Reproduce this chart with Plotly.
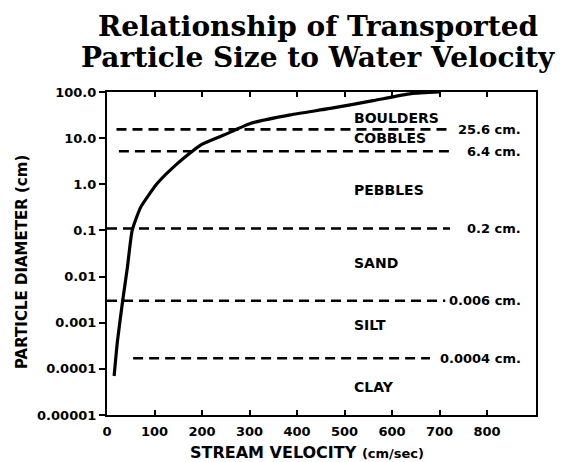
import math
import plotly.graph_objects as go

# Curve: stream velocity (cm/sec) vs particle diameter (cm)
velocity = [15, 22, 33, 43, 53, 71, 106, 148, 197, 246, 303, 386, 470, 560, 640, 700]
diameter = [0.00007, 0.0004, 0.003, 0.016, 0.1, 0.32, 1.05, 2.8, 7.1, 11.7, 21, 32, 44, 65, 92, 100]

# Boundary (dashed) lines as drawn
boundary_y = [15.5, 5.2, 0.11, 0.003, 0.00017]
boundary_x0 = [20, 25, 0, 0, 55]
boundary_x1 = [720, 720, 722, 712, 680]
boundary_labels = ["25.6 cm.", "6.4 cm.", "0.2 cm.", "0.006 cm.", "0.0004 cm."]

# Particle class labels
class_names = ["BOULDERS", "COBBLES", "PEBBLES", "SAND", "SILT", "CLAY"]
class_y = [27, 10, 0.74, 0.0195, 0.0009, 0.00004]
class_x = 516

x_ticks = [0, 100, 200, 300, 400, 500, 600, 700, 800]
y_ticks = [100, 10, 1, 0.1, 0.01, 0.001, 0.0001, 0.00001]
y_tick_text = ["100.0", "10.0", "1.0", "0.1", "0.01", "0.001", "0.0001", "0.00001"]

title_lines = ["Relationship of Transported", "Particle Size to Water Velocity"]
x_title = "STREAM VELOCITY <span style='font-size:13px'>(cm/sec)</span>"
y_title = "PARTICLE DIAMETER (cm)"

W, H = 563, 462
ML, MR, MT, MB = 107, 27, 92, 47
PH = H - MT - MB
PW = W - ML - MR


def px_to_paper_x(px):
    return (px - ML) / PW


def px_to_paper_y(py):
    return (H - MB - py) / PH


fig = go.Figure()

for y, x0, x1 in zip(boundary_y, boundary_x0, boundary_x1):
    fig.add_trace(go.Scatter(x=[x0, x1], y=[y, y], mode="lines",
                             line=dict(color="black", width=2.6, dash="10px,6px"),
                             hoverinfo="skip", showlegend=False))

fig.add_trace(go.Scatter(x=velocity, y=diameter, mode="lines",
                         line=dict(color="black", width=3.2, shape="spline", smoothing=0.5),
                         showlegend=False))

ann = []
for y, t in zip(boundary_y, boundary_labels):
    ann.append(dict(x=px_to_paper_x(523), y=math.log10(y), xref="paper", yref="y", text=t,
                    showarrow=False, xanchor="right", yanchor="middle",
                    font=dict(family="DejaVu Sans", size=13, color="black", weight="bold")))
for y, t in zip(class_y, class_names):
    ann.append(dict(x=class_x, y=math.log10(y), xref="x", yref="y", text=t, showarrow=False,
                    xanchor="left", yanchor="middle",
                    font=dict(family="DejaVu Sans", size=14, color="black", weight="bold")))

# Title as two lines placed precisely (pixel centres converted to paper coords)
for t, py in zip(title_lines, [27, 58]):
    ann.append(dict(x=px_to_paper_x(318), y=px_to_paper_y(py), xref="paper", yref="paper",
                    text=t, showarrow=False, xanchor="center", yanchor="middle",
                    font=dict(family="DejaVu Serif", size=28, color="black", weight="bold")))

# Axis titles
ann.append(dict(x=px_to_paper_x(307), y=px_to_paper_y(452), xref="paper", yref="paper",
                text=x_title, showarrow=False, xanchor="center", yanchor="middle",
                font=dict(family="DejaVu Sans", size=16, color="black", weight="bold")))
ann.append(dict(x=px_to_paper_x(22), y=px_to_paper_y(262), xref="paper", yref="paper",
                text=y_title, showarrow=False, xanchor="center", yanchor="middle", textangle=-90,
                font=dict(family="DejaVu Sans", size=15, color="black", weight="bold")))

fig.update_layout(
    width=W, height=H,
    margin=dict(l=ML, r=MR, t=MT, b=MB, autoexpand=False),
    paper_bgcolor="white", plot_bgcolor="white",
    annotations=ann,
    xaxis=dict(range=[0, 903], tickvals=x_ticks, ticks="inside", ticklen=5, tickwidth=1.5,
               tickcolor="black", showline=True, linecolor="black", linewidth=2.2,
               mirror="ticks", showgrid=False, zeroline=False, ticklabelstandoff=3,
               tickfont=dict(family="DejaVu Sans", size=13, color="black", weight="bold")),
    yaxis=dict(type="log", range=[-5, 2], tickvals=y_ticks, ticktext=y_tick_text,
               ticks="outside", ticklen=6, tickwidth=1.5, tickcolor="black",
               showline=True, linecolor="black", linewidth=2.2, mirror=True,
               showgrid=False, zeroline=False,
               tickfont=dict(family="DejaVu Sans", size=13, color="black", weight="bold")),
)

fig.write_html("out.html",
               config={"displayModeBar": False},
               post_script="document.body.style.margin='0';document.body.style.padding='0';")
